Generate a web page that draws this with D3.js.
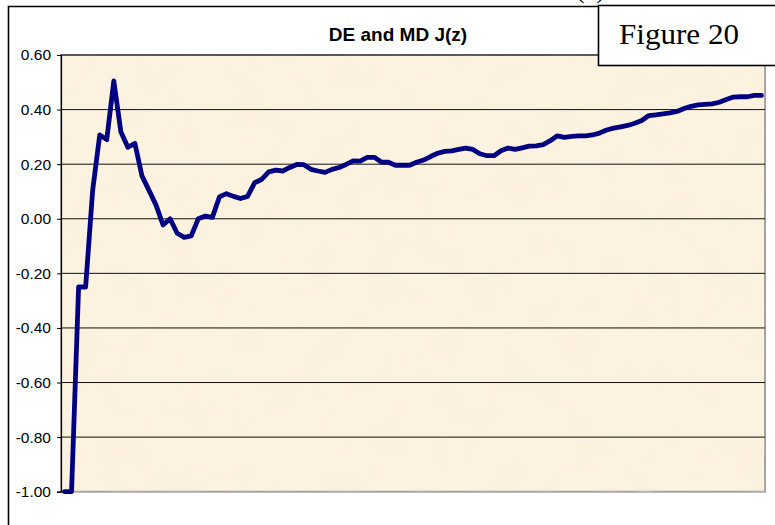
<!DOCTYPE html>
<html>
<head>
<meta charset="utf-8">
<script src="https://cdn.jsdelivr.net/npm/d3@7"></script>
<style>
  body { margin: 0; background: #fff; }
  svg { display: block; }
</style>
</head>
<body>
<div id="chart-container"></div>
<script>
/* DATA */

const chartTitle = "DE and MD J(z)";
const figureLabel = "Figure 20";

// 100 categories, no labels on the x axis
const categories = d3.range(1, 101);

// J(z) series
const jValues = [
  -1.00, -1.00, -0.25, -0.25, 0.105, 0.307, 0.290, 0.505, 0.319, 0.262,
  0.276, 0.157, 0.104, 0.050, -0.023, 0.000, -0.053, -0.068, -0.063, 0.000,
  0.010, 0.005, 0.080, 0.092, 0.082, 0.074, 0.082, 0.132, 0.144, 0.172,
  0.178, 0.175, 0.188, 0.199, 0.198, 0.181, 0.175, 0.170, 0.181, 0.188,
  0.199, 0.212, 0.211, 0.225, 0.225, 0.208, 0.207, 0.196, 0.196, 0.196,
  0.207, 0.215, 0.228, 0.240, 0.247, 0.249, 0.254, 0.259, 0.254, 0.238,
  0.231, 0.231, 0.249, 0.259, 0.254, 0.260, 0.266, 0.267, 0.272, 0.286,
  0.304, 0.298, 0.302, 0.304, 0.304, 0.307, 0.314, 0.325, 0.332, 0.337,
  0.342, 0.350, 0.360, 0.378, 0.381, 0.384, 0.388, 0.393, 0.404, 0.412,
  0.417, 0.419, 0.421, 0.427, 0.437, 0.446, 0.447, 0.447, 0.452, 0.452
];

const yTicks = [-1.0, -0.8, -0.6, -0.4, -0.2, 0.0, 0.2, 0.4, 0.6];
const yTickLabels = ["-1.00", "-0.80", "-0.60", "-0.40", "-0.20", "0.00", "0.20", "0.40", "0.60"];

/* CHART */

const width = 775;
const height = 525;
const plot = { left: 61, right: 765, top: 55, bottom: 491.7 };

const svg = d3.select("#chart-container")
    .append("svg")
    .attr("width", width)
    .attr("height", height);

// parchment texture for the plot area
const defs = svg.append("defs");
const filter = defs.append("filter")
    .attr("id", "parchment")
    .attr("x", 0).attr("y", 0).attr("width", 1).attr("height", 1);
filter.append("feTurbulence")
    .attr("type", "fractalNoise")
    .attr("baseFrequency", "0.03")
    .attr("numOctaves", 4)
    .attr("seed", 7);
filter.append("feColorMatrix")
    .attr("type", "matrix")
    .attr("values", "0 0 0 0 0.94  0 0 0 0 0.86  0 0 0 0 0.70  0.7 0 0 0 -0.27");

svg.append("rect")
    .attr("width", width)
    .attr("height", height)
    .attr("fill", "#fff");

// chart area border (left and top)
svg.append("path")
    .attr("d", `M8.5,${height} V6.5 H600`)
    .attr("fill", "none")
    .attr("stroke", "#000")
    .attr("stroke-width", 1.6);

const x = d3.scalePoint()
    .domain(categories)
    .range([plot.left, plot.right])
    .padding(0.5);

const y = d3.scaleLinear()
    .domain([-1, 0.6])
    .range([plot.bottom, plot.top]);

// plot area
svg.append("rect")
    .attr("x", plot.left)
    .attr("y", plot.top)
    .attr("width", plot.right - plot.left)
    .attr("height", plot.bottom - plot.top)
    .attr("fill", "#fcf2e0")
    .attr("stroke", "#a0a0a0")
    .attr("stroke-width", 2);

svg.append("rect")
    .attr("x", plot.left)
    .attr("y", plot.top)
    .attr("width", plot.right - plot.left)
    .attr("height", plot.bottom - plot.top)
    .attr("filter", "url(#parchment)");

// gridlines
svg.append("g")
    .selectAll("line")
    .data(yTicks.filter(d => d > -1))
    .join("line")
    .attr("x1", plot.left)
    .attr("x2", plot.right)
    .attr("y1", d => y(d))
    .attr("y2", d => y(d))
    .attr("stroke", "#111")
    .attr("stroke-width", 1);

// y axis
const yAxis = svg.append("g")
    .attr("transform", `translate(${plot.left},0)`)
    .call(d3.axisLeft(y)
        .tickValues(yTicks)
        .tickSize(4)
        .tickPadding(6)
        .tickFormat((d, i) => yTickLabels[i]));

yAxis.select(".domain")
    .attr("stroke", "#000")
    .attr("stroke-width", 1.2);
yAxis.selectAll(".tick line").attr("stroke", "#000");
yAxis.selectAll(".tick text")
    .attr("fill", "#000")
    .style("font-family", "'Liberation Sans', Arial, sans-serif")
    .style("font-size", "15.5px");

// the series
const line = d3.line()
    .x((d, i) => x(categories[i]))
    .y(d => y(d));

svg.append("path")
    .datum(jValues)
    .attr("d", line)
    .attr("fill", "none")
    .attr("stroke", "#000080")
    .attr("stroke-width", 4.8)
    .attr("stroke-linejoin", "round")
    .attr("stroke-linecap", "round");

// title
svg.append("text")
    .attr("x", 398)
    .attr("y", 40.5)
    .attr("text-anchor", "middle")
    .style("font-family", "'Liberation Sans', Arial, sans-serif")
    .style("font-weight", "bold")
    .style("font-size", "19px")
    .text(chartTitle);

// cut text from the page above
svg.append("text")
    .attr("x", 566)
    .attr("y", -2)
    .style("font-family", "'Liberation Serif', serif")
    .style("font-size", "26px")
    .text("J(z)");

// figure label box
svg.append("rect")
    .attr("x", 598.5)
    .attr("y", 5.5)
    .attr("width", 190)
    .attr("height", 60)
    .attr("fill", "#fff")
    .attr("stroke", "#000")
    .attr("stroke-width", 1.6);

svg.append("text")
    .attr("x", 619)
    .attr("y", 44)
    .attr("textLength", 120)
    .attr("lengthAdjust", "spacingAndGlyphs")
    .style("font-family", "'Palatino Linotype', 'Book Antiqua', Palatino, 'Liberation Serif', serif")
    .style("font-size", "29px")
    .text(figureLabel);
</script>
</body>
</html>
